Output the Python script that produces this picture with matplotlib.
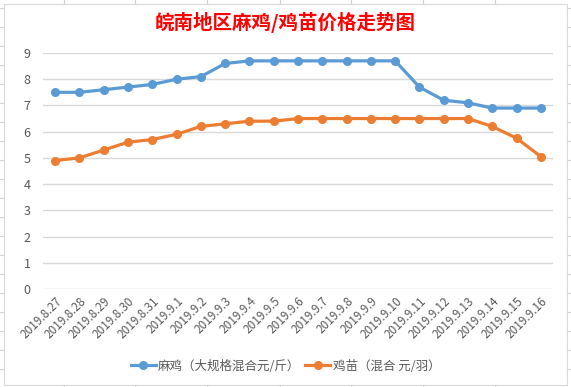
import matplotlib
matplotlib.use("Agg")
import matplotlib.pyplot as plt
from matplotlib.lines import Line2D
from matplotlib.patches import Rectangle

plt.rcParams['font.family'] = ['Noto Sans CJK SC', 'DejaVu Sans']

dates = ['2019.8.27', '2019.8.28', '2019.8.29', '2019.8.30', '2019.8.31',
         '2019.9.1', '2019.9.2', '2019.9.3', '2019.9.4', '2019.9.5',
         '2019.9.6', '2019.9.7', '2019.9.8', '2019.9.9', '2019.9.10',
         '2019.9.11', '2019.9.12', '2019.9.13', '2019.9.14', '2019.9.15',
         '2019.9.16']
hen = [7.5, 7.5, 7.6, 7.7, 7.8, 8.0, 8.1, 8.6, 8.7, 8.7,
       8.7, 8.7, 8.7, 8.7, 8.7, 7.7, 7.2, 7.1, 6.9, 6.9, 6.9]
chick = [4.9, 5.0, 5.3, 5.6, 5.7, 5.9, 6.2, 6.3, 6.4, 6.4,
         6.5, 6.5, 6.5, 6.5, 6.5, 6.5, 6.5, 6.5, 6.2, 5.75, 5.05]
hen_label = '麻鸡（大规格混合元/斤）'
chick_label = '鸡苗（混合 元/羽）'
title = '皖南地区麻鸡/鸡苗价格走势图'

blue = '#5B9BD5'
orange = '#ED7D31'
txt = '#595959'

fig = plt.figure(figsize=(5.71, 3.87), dpi=100)
fig.patch.set_facecolor('white')

# spreadsheet cell lines around the chart
cell = '#D4D4D4'
for x in [64, 135, 207, 280, 351, 423, 495]:
    fig.add_artist(Line2D([x / 571, x / 571], [1, 1 - 4 / 387], color=cell, lw=0.8))
    fig.add_artist(Line2D([x / 571, x / 571], [0, 2 / 387], color=cell, lw=0.8))
for y in range(8, 387, 19):
    fig.add_artist(Line2D([0, 3 / 571], [1 - y / 387, 1 - y / 387], color=cell, lw=0.8))
    fig.add_artist(Line2D([567 / 571, 1], [1 - y / 387, 1 - y / 387], color=cell, lw=0.8))
fig.add_artist(Rectangle((3.5 / 571, 2 / 387), 563.5 / 571, 381 / 387,
                         fill=False, edgecolor='#D9D9D9', lw=0.8))

ax = fig.add_axes([43 / 571, 1 - 289 / 387, 510 / 571, 236 / 387])
x = range(len(dates))
ax.plot(x, hen, color=blue, lw=2.3, marker='o', ms=5.5, label=hen_label, zorder=3)
ax.plot(x, chick, color=orange, lw=2.3, marker='o', ms=5.5, label=chick_label, zorder=3)

ax.set_xlim(-0.5, len(dates) - 0.5)
ax.set_ylim(0, 9)
ax.set_yticks(range(10))
ax.grid(axis='y', color='#D9D9D9', lw=1)
ax.set_axisbelow(True)
for s in ax.spines.values():
    s.set_visible(False)
ax.tick_params(axis='both', length=0, colors=txt, labelsize=9)
ax.tick_params(axis='y', pad=9)
ax.tick_params(axis='x', pad=4)
ax.set_xticks(list(x))
ax.set_xticklabels(dates, rotation=45, ha='right', rotation_mode='anchor')
for lab in ax.get_xticklabels():
    lab.set_fontsize(8.5)
    lab.set_color(txt)

fig.text(0.5, 1 - 22 / 387, title, color='red', fontsize=14, fontweight='bold',
         ha='center', va='center')

fig.legend(loc='center', bbox_to_anchor=(0.5, 1 - 366 / 387), ncol=2, frameon=False,
           fontsize=9, handlelength=2.0, handletextpad=0.2, columnspacing=0.4,
           labelcolor=txt)

fig.savefig('out.png', dpi=100)
